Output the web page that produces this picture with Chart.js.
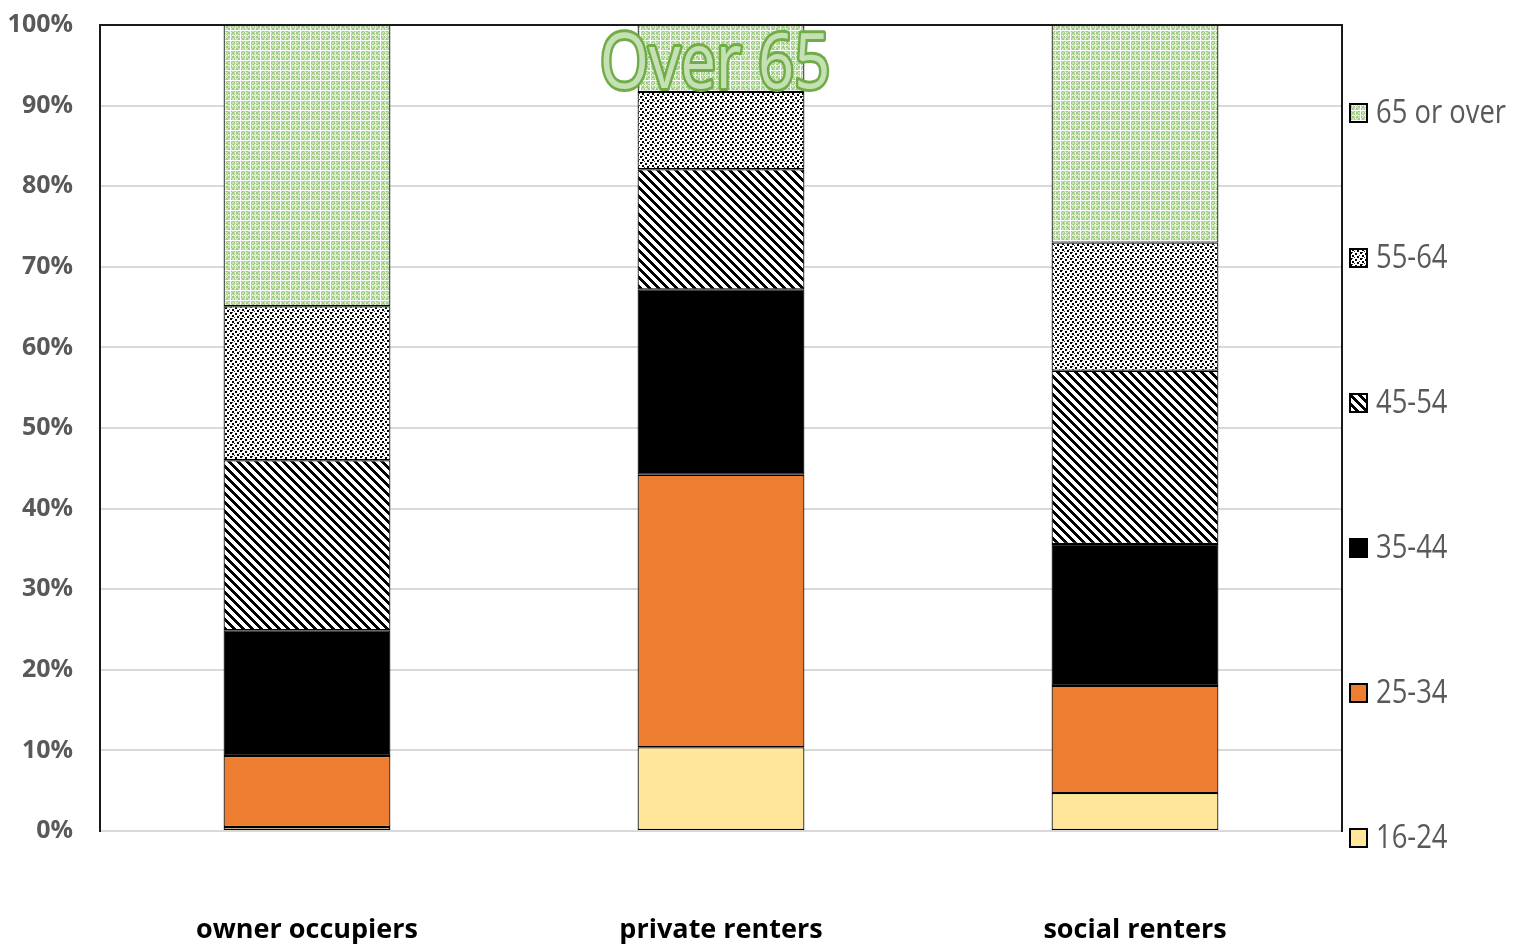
<!DOCTYPE html>
<html>
<head>
<meta charset="utf-8">
<script src="https://cdn.jsdelivr.net/npm/chart.js@4.4.0/dist/chart.umd.min.js"></script>
<style>
  body { margin: 0; background: #fff; }
  #wrap { width: 1522px; height: 950px; }
</style>
</head>
<body>
<div id="wrap"><canvas id="grafico" width="1522" height="950"></canvas></div>
<script>
// datos (porcentaje de hogares por edad)
const categorias = ['owner occupiers', 'private renters', 'social renters'];
const etiquetasEdad = ['16-24', '25-34', '35-44', '45-54', '55-64', '65 or over'];
const edad16a24 = [0.5, 10.4, 4.7];
const edad25a34 = [8.8, 33.8, 13.3];
const edad35a44 = [15.6, 23.0, 17.6];
const edad45a54 = [21.1, 14.9, 21.5];
const edad55a64 = [19.1, 9.6, 15.9];
const edad65mas = [34.9, 8.3, 27.0];
const marcasY = [0, 10, 20, 30, 40, 50, 60, 70, 80, 90, 100];
const textoNota = 'Over 65';

const FUENTE = "'Open Sans', 'Noto Sans', sans-serif";

// patrones de relleno tipo Excel
const crearPatron = (w, h, pintar) => {
  const c = document.createElement('canvas');
  c.width = w; c.height = h;
  const g = c.getContext('2d');
  g.fillStyle = '#fff';
  g.fillRect(0, 0, w, h);
  pintar(g, w, h);
  return document.getElementById('grafico').getContext('2d').createPattern(c, 'repeat');
};

// rayas diagonales "\"
const patronRayas = crearPatron(9, 9, (g, t) => {
  g.fillStyle = '#000';
  for (let y = 0; y < t; y++) {
    for (let x = 0; x < t; x++) {
      if ((((x - y) % t) + t) % t < 4) g.fillRect(x, y, 1, 1);
    }
  }
});

// puntos (confeti)
const patronPuntos = crearPatron(10, 6, (g) => {
  g.fillStyle = '#000';
  const pts = [[0, 0], [5, 1], [2, 3], [7, 4]];
  pts.forEach(p => g.fillRect(p[0], p[1], 2, 2));
  g.fillStyle = '#333';
  g.fillRect(2, 0, 1, 1);
  g.fillRect(9, 3, 1, 1);
  g.fillRect(4, 5, 1, 1);
});

// cuadricula verde
const patronVerde = crearPatron(20, 20, (g) => {
  for (let y = 0; y < 20; y++) {
    for (let x = 0; x < 20; x++) {
      const bx = x % 10, by = y % 10;
      if (bx === 0 || by === 0) continue;
      if (bx === 5 || by === 5) {
        if ((x + y) % 2 === 0) { g.fillStyle = '#c5e0b4'; g.fillRect(x, y, 1, 1); }
        continue;
      }
      g.fillStyle = ((Math.floor(x / 2) + Math.floor(y / 2)) % 2 === 0) ? '#9fcc82' : '#c9e3b9';
      g.fillRect(x, y, 1, 1);
    }
  }
});

const series = [edad16a24, edad25a34, edad35a44, edad45a54, edad55a64, edad65mas];
const rellenos = ['#ffe699', '#ed7d31', '#000000', patronRayas, patronPuntos, patronVerde];

const datasets = series.map((valores, i) => ({
  label: etiquetasEdad[i],
  data: valores,
  backgroundColor: rellenos[i],
  borderColor: '#000',
  borderWidth: 1.2,
  borderSkipped: false,
  barPercentage: 0.403,
  categoryPercentage: 1
}));

// texto estrecho (la fuente original es tipo Calibri)
const textoEstrecho = (ctx, txt, x, y, escala, trazo) => {
  ctx.save();
  ctx.translate(x, y);
  ctx.scale(escala, 1);
  if (trazo) ctx.strokeText(txt, 0, 0);
  ctx.fillText(txt, 0, 0);
  ctx.restore();
};

// leyenda a la derecha, de arriba hacia abajo en orden inverso
const leyenda = {
  id: 'leyendaDerecha',
  afterDraw(chart) {
    const ctx = chart.ctx;
    const area = chart.chartArea;
    const items = chart.data.datasets.slice().reverse();
    ctx.save();
    items.forEach((ds, i) => {
      const yc = 113 + i * 145;
      const x0 = area.right + 8;
      ctx.fillStyle = ds.backgroundColor;
      ctx.fillRect(x0, yc - 9, 17, 18);
      ctx.strokeStyle = '#000';
      ctx.lineWidth = 2;
      ctx.strokeRect(x0, yc - 9, 17, 18);
      ctx.fillStyle = '#595959';
      ctx.font = '33px ' + FUENTE;
      ctx.textBaseline = 'middle';
      ctx.textAlign = 'left';
      textoEstrecho(ctx, ds.label, x0 + 26, yc + 1, 0.83, false);
    });
    ctx.restore();
  }
};

// marco superior y derecho + texto "Over 65"
const marco = {
  id: 'marco',
  afterDatasetsDraw(chart) {
    const ctx = chart.ctx;
    const a = chart.chartArea;
    ctx.save();
    ctx.strokeStyle = '#1a1a1a';
    ctx.lineWidth = 2;
    ctx.beginPath();
    ctx.moveTo(a.left, a.top);
    ctx.lineTo(a.right, a.top);
    ctx.lineTo(a.right, a.bottom + 1);
    ctx.stroke();

    const xs = chart.scales.x, ys = chart.scales.y;
    const cx = xs.getPixelForValue(1) - 6;
    const cy = ys.getPixelForValue(94.9);
    ctx.font = '77px ' + FUENTE;
    ctx.textAlign = 'center';
    ctx.textBaseline = 'middle';
    ctx.lineJoin = 'round';
    ctx.strokeStyle = '#70ad47';
    ctx.lineWidth = 6;
    ctx.fillStyle = '#c5e0b4';
    textoEstrecho(ctx, textoNota, cx, cy, 0.82, true);
    ctx.restore();
  }
};

const config = {
  type: 'bar',
  data: { labels: categorias, datasets: datasets },
  options: {
    responsive: false,
    animation: false,
    layout: { padding: { top: 25, right: 180, left: 0, bottom: 0 } },
    plugins: { legend: { display: false }, tooltip: { enabled: false } },
    scales: {
      x: {
        stacked: true,
        grid: { display: false, drawTicks: false },
        border: { display: false },
        ticks: {
          padding: 83,
          color: '#000',
          font: { family: FUENTE, size: 27, weight: 'bold' }
        },
        afterFit: (s) => { s.height = 119; s.paddingLeft = 0; s.paddingRight = 0; }
      },
      y: {
        stacked: true,
        min: 0,
        max: 100,
        afterBuildTicks: (s) => { s.ticks = marcasY.map(v => ({ value: v })); },
        grid: { color: '#d9d9d9', lineWidth: 2, drawTicks: false },
        border: { color: '#1a1a1a', width: 2 },
        ticks: {
          padding: 27,
          color: '#595959',
          font: { family: FUENTE, size: 25, weight: 'bold' },
          callback: (v) => v + '%'
        },
        afterFit: (s) => { s.width = 100; s.paddingTop = 0; s.paddingBottom = 0; }
      }
    }
  },
  plugins: [leyenda, marco]
};

const grafico = new Chart(document.getElementById('grafico'), config);
</script>
</body>
</html>
